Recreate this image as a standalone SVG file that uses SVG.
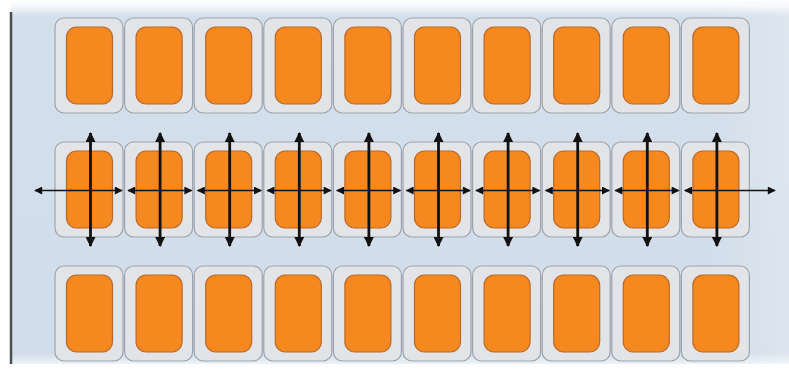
<svg xmlns="http://www.w3.org/2000/svg" width="789" height="370" viewBox="0 0 789 370">
  <defs>
    <linearGradient id="panelFill" x1="0" y1="0" x2="0" y2="1">
      <stop offset="0" stop-color="#ffffff"/>
      <stop offset="0.015" stop-color="#f6f8fb"/>
      <stop offset="0.045" stop-color="#d3dfeb"/>
      <stop offset="0.97" stop-color="#d1ddea"/>
      <stop offset="1" stop-color="#eef2f7"/>
    </linearGradient>
    <linearGradient id="panelSide" x1="0" y1="0" x2="1" y2="0">
      <stop offset="0" stop-color="#ffffff" stop-opacity="0"/>
      <stop offset="0.9" stop-color="#ffffff" stop-opacity="0"/>
      <stop offset="1" stop-color="#ffffff" stop-opacity="0.25"/>
    </linearGradient>
    <marker id="head" viewBox="0 0 10 10" refX="9" refY="5" markerWidth="9" markerHeight="8" markerUnits="userSpaceOnUse" orient="auto-start-reverse">
      <path d="M0,0 L10,5 L0,10 Z" fill="#111"/>
    </marker>
    <marker id="headV" viewBox="0 0 10 10" refX="9" refY="5" markerWidth="11" markerHeight="10" markerUnits="userSpaceOnUse" orient="auto-start-reverse">
      <path d="M0,0 L10,5 L0,10 Z" fill="#111"/>
    </marker>
    <g id="cell">
      <rect class="outer" x="0" y="0" width="68" height="95" rx="9"/>
      <rect class="inner" x="11.5" y="9" width="46" height="77" rx="10"/>
    </g>
  </defs>
  <style>
    .outer { fill: #e3e4e7; stroke: #9ea4ac; stroke-width: 1.2; }
    .inner { fill: #f5881f; stroke: #b8692a; stroke-width: 1.2; }
    .h { stroke: #111; stroke-width: 1.7; fill: none; marker-start: url(#head); marker-end: url(#head); }
    .v { stroke: #111; stroke-width: 2.8; fill: none; marker-start: url(#headV); marker-end: url(#headV); }
  </style>

  <!-- backdrop panel -->
  <rect x="0" y="0" width="789" height="370" fill="#ffffff"/>
  <rect x="11" y="0" width="778" height="364" fill="url(#panelFill)"/>
  <rect x="11" y="0" width="778" height="364" fill="url(#panelSide)"/>
  <line x1="11" y1="12" x2="11" y2="364" stroke="#4a4f56" stroke-width="2.5"/>

  <!-- top row -->
  <g id="top-row">
    <g id="t0"><use href="#cell" x="55" y="18"/></g>
    <g id="t1"><use href="#cell" x="124.6" y="18"/></g>
    <g id="t2"><use href="#cell" x="194.2" y="18"/></g>
    <g id="t3"><use href="#cell" x="263.8" y="18"/></g>
    <g id="t4"><use href="#cell" x="333.4" y="18"/></g>
    <g id="t5"><use href="#cell" x="403" y="18"/></g>
    <g id="t6"><use href="#cell" x="472.6" y="18"/></g>
    <g id="t7"><use href="#cell" x="542.2" y="18"/></g>
    <g id="t8"><use href="#cell" x="611.8" y="18"/></g>
    <g id="t9"><use href="#cell" x="681.4" y="18"/></g>
  </g>

  <!-- middle row -->
  <g id="middle-row">
    <g id="m0"><use href="#cell" x="55" y="142"/></g>
    <g id="m1"><use href="#cell" x="124.6" y="142"/></g>
    <g id="m2"><use href="#cell" x="194.2" y="142"/></g>
    <g id="m3"><use href="#cell" x="263.8" y="142"/></g>
    <g id="m4"><use href="#cell" x="333.4" y="142"/></g>
    <g id="m5"><use href="#cell" x="403" y="142"/></g>
    <g id="m6"><use href="#cell" x="472.6" y="142"/></g>
    <g id="m7"><use href="#cell" x="542.2" y="142"/></g>
    <g id="m8"><use href="#cell" x="611.8" y="142"/></g>
    <g id="m9"><use href="#cell" x="681.4" y="142"/></g>
  </g>

  <!-- bottom row -->
  <g id="bottom-row">
    <g id="b0"><use href="#cell" x="55" y="266"/></g>
    <g id="b1"><use href="#cell" x="124.6" y="266"/></g>
    <g id="b2"><use href="#cell" x="194.2" y="266"/></g>
    <g id="b3"><use href="#cell" x="263.8" y="266"/></g>
    <g id="b4"><use href="#cell" x="333.4" y="266"/></g>
    <g id="b5"><use href="#cell" x="403" y="266"/></g>
    <g id="b6"><use href="#cell" x="472.6" y="266"/></g>
    <g id="b7"><use href="#cell" x="542.2" y="266"/></g>
    <g id="b8"><use href="#cell" x="611.8" y="266"/></g>
    <g id="b9"><use href="#cell" x="681.4" y="266"/></g>
  </g>

  <!-- double-headed arrows crossing each middle cell -->
  <g id="connectors">
    <line class="h" x1="35" y1="190.5" x2="122" y2="190.5"/>
    <line class="h" x1="128" y1="190.5" x2="191.6" y2="190.5"/>
    <line class="h" x1="197.6" y1="190.5" x2="261.2" y2="190.5"/>
    <line class="h" x1="267.2" y1="190.5" x2="330.8" y2="190.5"/>
    <line class="h" x1="336.8" y1="190.5" x2="400.4" y2="190.5"/>
    <line class="h" x1="406.4" y1="190.5" x2="470" y2="190.5"/>
    <line class="h" x1="476" y1="190.5" x2="539.6" y2="190.5"/>
    <line class="h" x1="545.6" y1="190.5" x2="609.2" y2="190.5"/>
    <line class="h" x1="615.2" y1="190.5" x2="678.8" y2="190.5"/>
    <line class="h" x1="684.8" y1="190.5" x2="775" y2="190.5"/>

    <line class="v" x1="90.5" y1="133" x2="90.5" y2="246"/>
    <line class="v" x1="160.1" y1="133" x2="160.1" y2="246"/>
    <line class="v" x1="229.7" y1="133" x2="229.7" y2="246"/>
    <line class="v" x1="299.3" y1="133" x2="299.3" y2="246"/>
    <line class="v" x1="368.9" y1="133" x2="368.9" y2="246"/>
    <line class="v" x1="438.5" y1="133" x2="438.5" y2="246"/>
    <line class="v" x1="508.1" y1="133" x2="508.1" y2="246"/>
    <line class="v" x1="577.7" y1="133" x2="577.7" y2="246"/>
    <line class="v" x1="647.3" y1="133" x2="647.3" y2="246"/>
    <line class="v" x1="716.9" y1="133" x2="716.9" y2="246"/>
  </g>
</svg>
